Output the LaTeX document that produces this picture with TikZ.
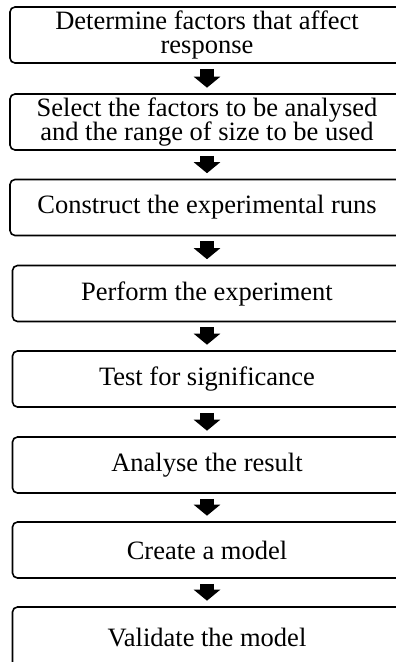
\documentclass[tikz,border=0pt]{standalone}
\usepackage{fontspec}
\setmainfont{Liberation Serif}
\usetikzlibrary{arrows.meta}
\begin{document}
\begin{tikzpicture}[x=1pt,y=1pt,
  stepbox/.style={draw, line width=1.6pt, rounded corners=5pt, minimum height=56pt,
    align=center, inner sep=0pt, font=\fontsize{26.5}{24.5}\selectfont},
  wide/.style={minimum width=394pt},
  narrow/.style={minimum width=389pt},
  blockarrow/.style={line width=14pt, shorten <=5pt, shorten >=5.5pt,
    -{Triangle[width=26pt,length=11pt]}}
]
\useasboundingbox (0,0) rectangle (396,-662);
\clip (0,0) rectangle (396,-662);
\node[stepbox,wide]   (b1) at (207,-35)    {Determine factors that affect\\response};
\node[stepbox,wide]   (b2) at (207,-122)   {Select the factors to be analysed\\and the range of size to be used};
\node[stepbox,wide]   (b3) at (207,-207.5) {Construct the experimental runs};
\node[stepbox,narrow] (b4) at (207,-293.5) {Perform the experiment};
\node[stepbox,narrow] (b5) at (207,-379)   {Test for significance};
\node[stepbox,narrow] (b6) at (207,-465)   {Analyse the result};
\node[stepbox,narrow] (b7) at (207,-550)   {Create a model};
\node[stepbox,narrow,minimum height=60pt] (b8) at (207,-637) {Validate the model};
\foreach \a/\b in {b1/b2,b2/b3,b3/b4,b4/b5,b5/b6,b6/b7,b7/b8}
  \draw[blockarrow] (\a.south) -- (\b.north);
\end{tikzpicture}
\end{document}
